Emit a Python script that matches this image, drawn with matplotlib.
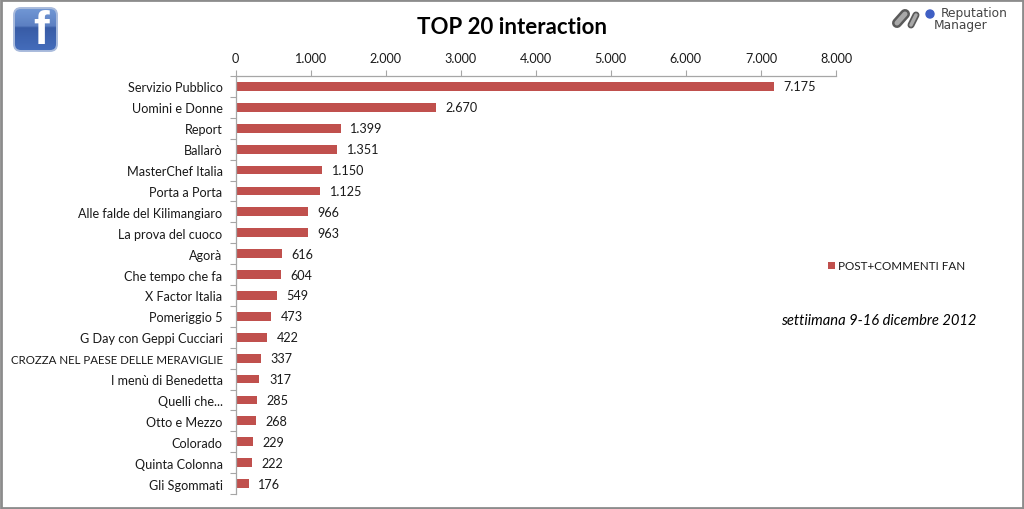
import matplotlib
matplotlib.use("Agg")
import matplotlib.pyplot as plt
from matplotlib.patches import FancyBboxPatch, Circle, Rectangle
from matplotlib.lines import Line2D
from matplotlib.ticker import FuncFormatter
import numpy as np

categories = ["Servizio Pubblico", "Uomini e Donne", "Report", "Ballarò", "MasterChef Italia",
              "Porta a Porta", "Alle falde del Kilimangiaro", "La prova del cuoco", "Agorà",
              "Che tempo che fa", "X Factor Italia", "Pomeriggio 5", "G Day con Geppi Cucciari",
              "CROZZA NEL PAESE DELLE MERAVIGLIE", "I menù di Benedetta", "Quelli che...",
              "Otto e Mezzo", "Colorado", "Quinta Colonna", "Gli Sgommati"]
values = [7175, 2670, 1399, 1351, 1150, 1125, 966, 963, 616, 604, 549, 473, 422, 337, 317, 285, 268, 229, 222, 176]
x_ticks = [0, 1000, 2000, 3000, 4000, 5000, 6000, 7000, 8000]
series_name = "POST+COMMENTI FAN"
title = "TOP 20 interaction"
note = "settiimana 9-16 dicembre 2012"

W, H = 1024, 510
plt.rcParams['font.family'] = ['Lato', 'DejaVu Sans']
fs = 9.1
txt = '#1a1a1a'
fmt = lambda v: f"{int(v):,}".replace(",", ".")

fig = plt.figure(figsize=(W/100, H/100), dpi=100, facecolor='white')
ov = fig.add_axes([0, 0, 1, 1], zorder=0)
ov.set_xlim(0, W); ov.set_ylim(H, 0); ov.axis('off')

# outer frame
ov.add_patch(Rectangle((1, 1), W-2, H-2, fill=False, ec='#8c8c8c', lw=2))

ax = fig.add_axes([235.5/W, 1-495/H, (836-235.5)/W, (495-77)/H], zorder=1)
ax.patch.set_alpha(0)
y = np.arange(len(categories))
ax.barh(y, values, height=0.42, color='#c0504d')
ax.set_ylim(len(categories)-0.5, -0.5)
ax.set_xlim(0, 8000)
ax.xaxis.tick_top()
ax.set_xticks(x_ticks)
ax.xaxis.set_major_formatter(FuncFormatter(lambda v, p: fmt(v)))
ax.set_yticks(y)
ax.set_yticklabels(categories)
ax.set_yticks(np.arange(len(categories)+1)-0.5, minor=True)
ax.tick_params(axis='y', which='major', length=0, pad=9.3, labelsize=fs, labelcolor=txt)
ax.tick_params(axis='y', which='minor', length=4.5, width=0.8, color='#a6a6a6')
ax.tick_params(axis='x', length=4.5, width=0.8, color='#a6a6a6', labelsize=fs, labelcolor=txt, pad=4)
for lab in ax.get_yticklabels():
    if lab.get_text().isupper():
        lab.set_fontsize(8.25)
for s in ('right', 'bottom'):
    ax.spines[s].set_visible(False)
for s in ('top', 'left'):
    ax.spines[s].set_color('#a6a6a6'); ax.spines[s].set_linewidth(0.9)
for yi, v in zip(y, values):
    ax.annotate(fmt(v), (v, yi), xytext=(7, 0), textcoords='offset points', va='center', ha='left',
                fontsize=fs, color=txt)

fig.text(512/W, 1-28/H, title, ha='center', va='center', fontsize=16, fontweight='bold', color='black')

# legend
ov.add_patch(Rectangle((828, 263), 6.5, 6.5, color='#c0504d', lw=0))
ov.text(838.5, 266.5, series_name, fontsize=8.4, va='center', ha='left', color=txt)
ov.text(879, 321.5, note, fontsize=10.6, style='italic', va='center', ha='center', color='black')

# facebook badge
grad = np.array([0, 0.42, 0.46, 1.0])
stops = np.array([[0.45, 0.60, 0.84], [0.36, 0.50, 0.76], [0.22, 0.36, 0.65], [0.27, 0.43, 0.74]])
t = np.linspace(0, 1, 64)
img = np.stack([np.interp(t, grad, stops[:, i]) for i in range(3)], axis=1)[:, None, :]
badge = FancyBboxPatch((14, 9), 43, 43, boxstyle="round,pad=0,rounding_size=7", fc='none', ec='#a9bbdc', lw=1.4, zorder=2)
ov.add_patch(badge)
im = ov.imshow(img, extent=(13, 58, 53, 8), aspect='auto', zorder=1)
im.set_clip_path(badge)
ov.set_xlim(0, W); ov.set_ylim(H, 0)
ov.text(41, 31.5, "f", fontsize=34, fontweight='bold', color='white', ha='center', va='center',
        family='Liberation Sans', zorder=3)

# reputation manager logo
for (x0, y0, x1, y1, w) in [(897, 24, 905, 15, 10), (911, 26, 916, 16, 7), (923, 24, 923, 24, 8)]:
    ov.add_line(Line2D([x0, x1], [y0, y1], lw=w*0.72, color='#5a5a5a', solid_capstyle='round', zorder=2))
    ov.add_line(Line2D([x0, x1], [y0, y1], lw=w*0.36, color='#a8a8a8', solid_capstyle='round', zorder=3))
ov.add_patch(Circle((930, 15), 4, color='#3f5fc4', zorder=3))
ov.text(941, 14, "Reputation", fontsize=8.8, color='#444444', va='center', ha='left', family='DejaVu Sans')
ov.text(934, 26, "Manager", fontsize=8.8, color='#444444', va='center', ha='left', family='DejaVu Sans')

fig.savefig("out.png", dpi=100)
